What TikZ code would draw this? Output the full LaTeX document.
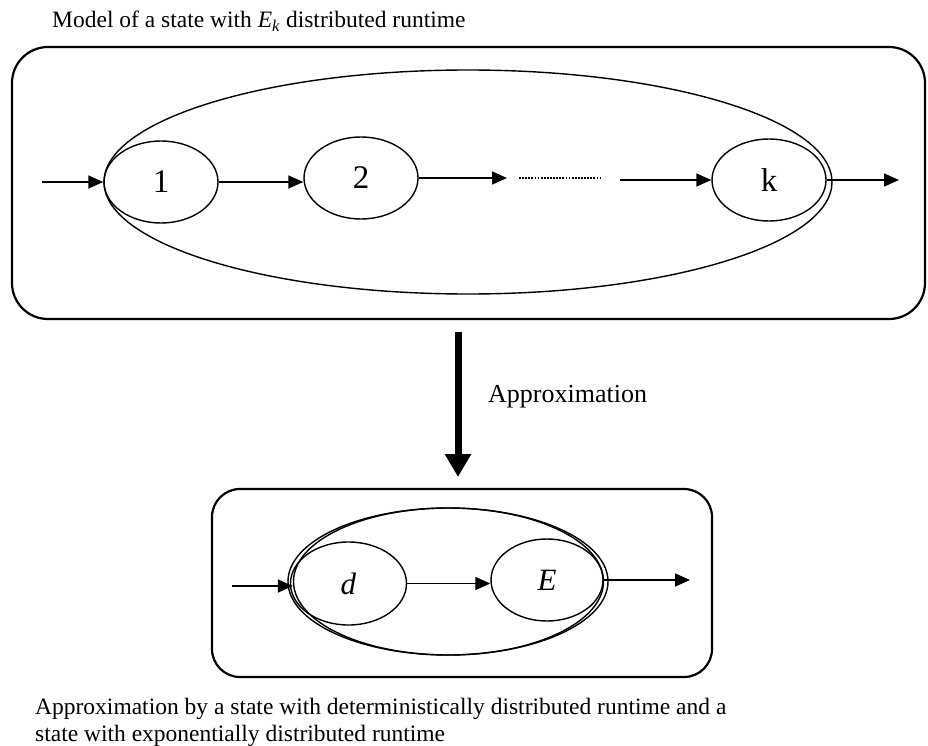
\documentclass[tikz,border=0pt]{standalone}
\usepackage{fontspec}
\setmainfont{Liberation Serif}
\usetikzlibrary{calc,shapes.geometric,positioning,arrows.meta}

\begin{document}
\begin{tikzpicture}[x=1pt,y=-1pt,
		stage/.style={draw, ellipse, line width=1.4pt, inner sep=0pt, minimum width=114pt, minimum height=82pt},
		frame/.style={draw, line width=2.2pt, inner sep=0pt},
		flow/.style={line width=1.6pt, -{Triangle[length=15pt,width=13pt]}},
		caption/.style={font=\fontsize{23.5}{26.5}\selectfont}]
	\useasboundingbox (0,0) rectangle (928,746);

	% upper part: state with E_k runtime
	\node[caption, anchor=base west, inner sep=0pt] (title) at (52,28) {Model of a state with \textit{E}\textsubscript{\textit{k}} distributed runtime};
	\node[frame, rounded corners=36pt, minimum width=913pt, minimum height=272pt] (upper) at (468.5,183) {};
	\node[draw, ellipse, line width=1.4pt, minimum width=728pt, minimum height=224pt] (chain) at (468,182) {};

	\node[stage, font=\fontsize{33}{33}\selectfont] (s1) at (161,182) {1};
	\node[stage, font=\fontsize{33}{33}\selectfont] (s2) at (361,178) {2};
	\node[stage, font=\fontsize{33}{33}\selectfont] (sk) at (769,180) {k};

	\coordinate (in1) at (42,182);
	\coordinate (gap1) at (507,178);
	\coordinate (dotsA) at (519,178);
	\coordinate (dotsB) at (600,178);
	\coordinate (gap2) at (620,180);
	\coordinate (out1) at (899,180);

	\draw[flow] (in1) -- (s1.west);
	\draw[flow] (s1.east) -- (s1.east -| s2.west);
	\draw[flow] (s2.east) -- (gap1);
	\draw[line width=2.2pt, dash pattern=on 1.8pt off 1.3pt] (dotsA) -- (dotsB);
	\draw[flow] (gap2) -- (sk.west);
	\draw[flow] (sk.east) -- (out1);

	% approximation step
	\coordinate (apprTop) at (458,332);
	\coordinate (apprTip) at (458,477);
	\draw[line width=7pt, -{Triangle[length=23pt,width=25pt]}] (apprTop) -- (apprTip);
	\node[font=\fontsize{26}{26}\selectfont, anchor=base west, inner sep=0pt] (apprLabel) at (488,402) {Approximation};

	% lower part: deterministic + exponential
	\node[frame, rounded corners=28pt, minimum width=500pt, minimum height=188pt] (lower) at (462,583) {};
	\node[draw, ellipse, line width=1.4pt, minimum width=320pt, minimum height=147pt] (pair) at (448,581.5) {};
	\node[draw, ellipse, line width=1.4pt, minimum width=310pt, minimum height=147pt] (pairIn) at (448.5,581.5) {};

	\node[stage, minimum width=116pt, minimum height=83pt, font=\fontsize{31}{31}\selectfont] (sd) at (348.5,583.5) {\textit{d}};
	\node[stage, minimum width=112pt, minimum height=82pt, font=\fontsize{31}{31}\selectfont] (sE) at (547,580) {\textit{E}};

	\coordinate (in2) at (232,586);
	\coordinate (out2) at (690,580);
	\draw[flow] (in2) -- (in2 -| pairIn.west);
	\draw[flow] (sd.east) -- (sd.east -| sE.west);
	\draw[flow] (sE.east) -- (out2);

	\node[caption, anchor=north west, inner sep=0pt, align=left] (note) at (35,698) {Approximation by a state with deterministically distributed runtime and a\\state with exponentially distributed runtime};
\end{tikzpicture}
\end{document}
